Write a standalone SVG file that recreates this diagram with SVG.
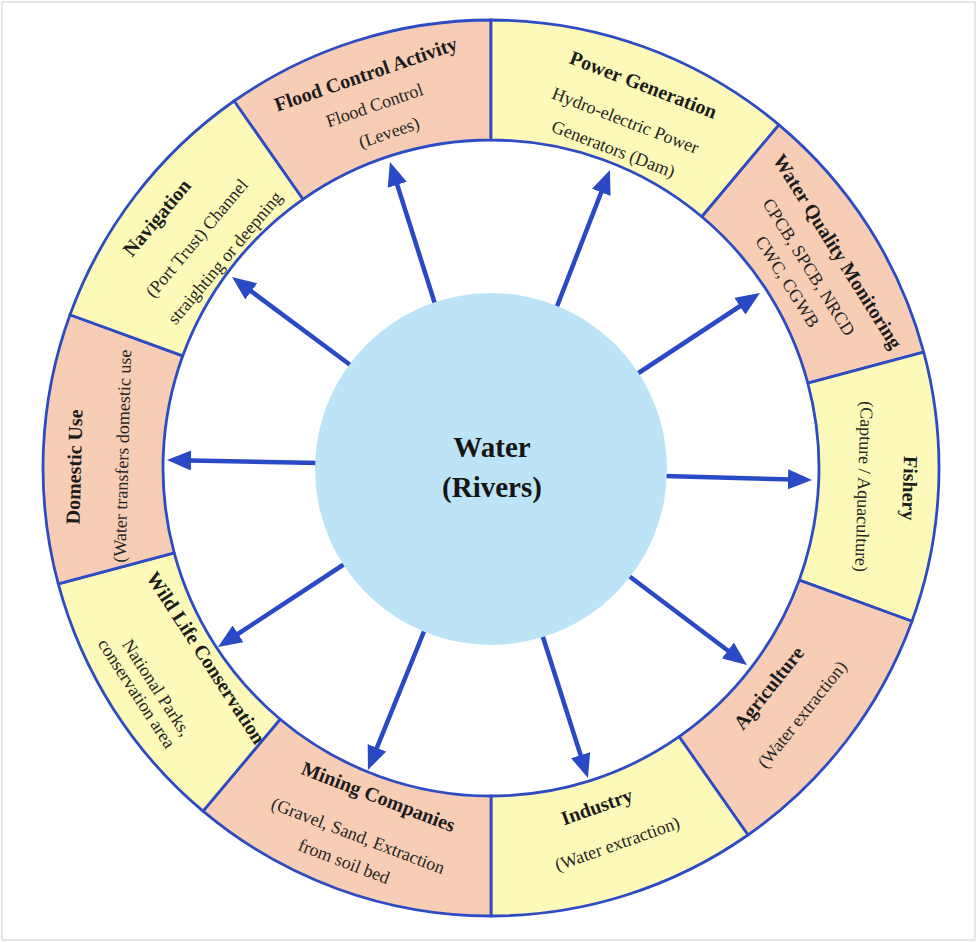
<svg xmlns="http://www.w3.org/2000/svg" width="977" height="942" viewBox="0 0 977 942">
<defs>
<style>
.bg{fill:#ffffff}
.frame{fill:none;stroke:#cfcfcf;stroke-width:1}
.seg{stroke:#2d4cc4;stroke-width:2.8;stroke-linejoin:round}
.sal{fill:#f7cdb5}
.yel{fill:#fdf9b8}
.hub{fill:#bde3f6}
.t{font-family:"Liberation Serif","Times New Roman",serif;font-weight:bold;font-size:20px;fill:#1c1c1c;text-anchor:middle}
.s{font-family:"Liberation Serif","Times New Roman",serif;font-size:18px;fill:#262626;text-anchor:middle}
.c{font-family:"Liberation Serif","Times New Roman",serif;font-weight:bold;font-size:29px;fill:#151515;text-anchor:middle}
.arr{stroke:#2a49c4;stroke-width:4.5;fill:none;marker-end:url(#ah)}
</style>
<marker id="ah" markerUnits="userSpaceOnUse" markerWidth="24" markerHeight="20" viewBox="0 0 24 20" refX="14" refY="10" orient="auto">
<path d="M0,0 L24,10 L0,20 Z" fill="#2a49c4"/>
</marker>
</defs>
<rect class="bg" x="0" y="0" width="977" height="942"/>
<rect class="frame" x="2" y="2" width="973" height="938"/>

<g id="flood-control">
<path class="seg sal" d="M234.03,101.00 A448,448 0 0 1 491,20 L491,140 A328,328 0 0 0 302.86,199.30 Z"/>
<g transform="translate(368,80.5) rotate(-19)">
<text class="t" x="0" y="0">Flood Control Activity</text>
<text class="s" x="-2" y="31.5">Flood Control</text>
<text class="s" x="3" y="62">(Levees)</text>
</g>
</g>

<g id="power-generation">
<path class="seg yel" d="M491,20 A448,448 0 0 1 778.97,124.83 L701.84,216.75 A328,328 0 0 0 491,140 Z"/>
<g transform="translate(641,91) rotate(21)">
<text class="t" x="0" y="0">Power Generation</text>
<text class="s" x="-4" y="39">Hydro-electric Power</text>
<text class="s" x="-5" y="70">Generators (Dam)</text>
</g>
</g>

<g id="water-quality">
<path class="seg sal" d="M778.97,124.83 A448,448 0 0 1 923.72,352.06 L807.82,383.11 A328,328 0 0 0 701.84,216.75 Z"/>
<g transform="translate(832,255) rotate(58)">
<text class="t" x="0" y="0">Water Quality Monitoring</text>
<text class="s" x="-2" y="32">CPCB, SPCB, NRCD</text>
<text class="s" x="-1" y="58">CWC, CGWB</text>
</g>
</g>

<g id="fishery">
<path class="seg yel" d="M923.72,352.06 A448,448 0 0 1 911.99,621.22 L799.22,580.18 A328,328 0 0 0 807.82,383.11 Z"/>
<g transform="translate(903,488) rotate(92)">
<text class="t" x="0" y="0">Fishery</text>
<text class="s" x="0" y="45">(Capture / Aquaculture)</text>
</g>
</g>

<g id="agriculture">
<path class="seg sal" d="M911.99,621.22 A448,448 0 0 1 747.97,835.00 L679.14,736.70 A328,328 0 0 0 799.22,580.18 Z"/>
<g transform="translate(774,692) rotate(-51.5)">
<text class="t" x="0" y="0">Agriculture</text>
<text class="s" x="0" y="42">(Water extraction)</text>
</g>
</g>

<g id="industry">
<path class="seg yel" d="M747.97,835.00 A448,448 0 0 1 491,916 L491,796 A328,328 0 0 0 679.14,736.70 Z"/>
<g transform="translate(599,813) rotate(-19.5)">
<text class="t" x="0" y="0">Industry</text>
<text class="s" x="7" y="41">(Water extraction)</text>
</g>
</g>

<g id="mining">
<path class="seg sal" d="M491,916 A448,448 0 0 1 203.03,811.17 L280.16,719.25 A328,328 0 0 0 491,796 Z"/>
<g transform="translate(376,803) rotate(21)">
<text class="t" x="0" y="0">Mining Companies</text>
<text class="s" x="-5" y="43">(Gravel, Sand, Extraction</text>
<text class="s" x="-9" y="72">from soil bed</text>
</g>
</g>

<g id="wildlife">
<path class="seg yel" d="M203.03,811.17 A448,448 0 0 1 58.28,583.94 L174.18,552.89 A328,328 0 0 0 280.16,719.25 Z"/>
<g transform="translate(200.5,661.5) rotate(57)">
<text class="t" x="0" y="0">Wild Life Conservation</text>
<text class="s" x="-2" y="57">National Parks,</text>
<text class="s" x="-8" y="77">conservation area</text>
</g>
</g>

<g id="domestic-use">
<path class="seg sal" d="M58.28,583.94 A448,448 0 0 1 70.01,314.78 L182.78,355.82 A328,328 0 0 0 174.18,552.89 Z"/>
<g transform="translate(81,467) rotate(-88.5)">
<text class="t" x="0" y="0">Domestic Use</text>
<text class="s" x="12" y="47">(Water transfers domestic use</text>
</g>
</g>

<g id="navigation">
<path class="seg yel" d="M70.01,314.78 A448,448 0 0 1 234.03,101.00 L302.86,199.30 A328,328 0 0 0 182.78,355.82 Z"/>
<g transform="translate(162,222) rotate(-50)">
<text class="t" x="0" y="0">Navigation</text>
<text class="s" x="10" y="43">(Port Trust) Channel</text>
<text class="s" x="13" y="77">straighting or deepning</text>
</g>
</g>

<g id="connectors">
<line class="arr" x1="436" y1="307" x2="393.0" y2="171.5"/>
<line class="arr" x1="556" y1="309" x2="606.3" y2="179.3"/>
<line class="arr" x1="637" y1="374" x2="751.6" y2="298.5"/>
<line class="arr" x1="664" y1="476" x2="802.0" y2="479.7"/>
<line class="arr" x1="629" y1="576" x2="739.0" y2="659.0"/>
<line class="arr" x1="542" y1="634" x2="584.9" y2="768.5"/>
<line class="arr" x1="425" y1="629" x2="371.7" y2="760.7"/>
<line class="arr" x1="346" y1="563" x2="226.4" y2="641.5"/>
<line class="arr" x1="319" y1="463" x2="177.0" y2="460.2"/>
<line class="arr" x1="353" y1="367" x2="240.0" y2="283.0"/>
</g>

<g id="water-rivers">
<circle class="hub" cx="491" cy="469" r="176"/>
<text class="c" x="492" y="457">Water</text>
<text class="c" x="492" y="497">(Rivers)</text>
</g>
</svg>
